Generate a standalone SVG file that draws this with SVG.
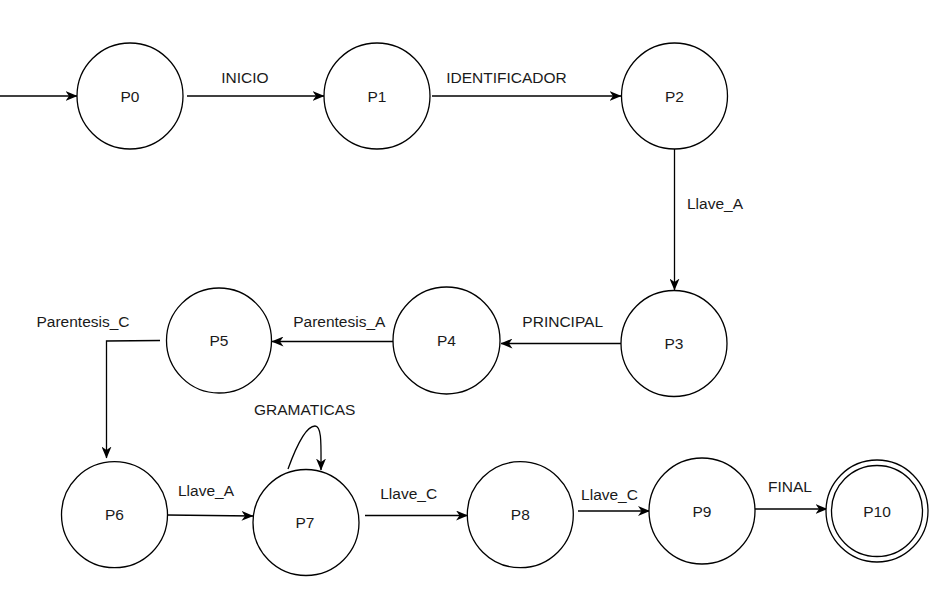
<svg xmlns="http://www.w3.org/2000/svg" width="936" height="607" viewBox="0 0 936 607">
<style>
  .st circle { fill: #ffffff; stroke: #000000; stroke-width: 1.3; }
  .st text, .lbl { font-family: "Liberation Sans", Arial, sans-serif; font-size: 15.5px; fill: #1a1a1a; }
  .st text { text-anchor: middle; }
  .lbl.c { text-anchor: middle; }
  .edge { fill: none; stroke: #000000; stroke-width: 1.3; marker-end: url(#arr); }
</style>
<defs>
  <marker id="arr" viewBox="0 0 12 10" refX="11.5" refY="5" markerWidth="12" markerHeight="10" markerUnits="userSpaceOnUse" orient="auto">
    <path d="M0,0 L12,5 L0,10 L3.5,5 Z" fill="#000000"/>
  </marker>
</defs>
<rect x="0" y="0" width="936" height="607" fill="#ffffff"/>
<g id="connectors">
  <path class="edge" d="M0,96 L77,96"/>
  <path class="edge" d="M187,96 L324,96"/>
  <path class="edge" d="M432,96 L621,96"/>
  <path class="edge" d="M674.5,149 L674.5,290"/>
  <path class="edge" d="M621,343.5 L501,343.5"/>
  <path class="edge" d="M393,341.5 L272,341.5"/>
  <path class="edge" d="M160,340.5 L106.5,341 L106.5,458"/>
  <path class="edge" d="M167,515 L253,516"/>
  <path class="edge" d="M288,469 C296,447 306,426 315,426 C322,426 321,445 321,470"/>
  <path class="edge" d="M365,515.5 L467.5,515.5"/>
  <path class="edge" d="M578,511 L649.5,511"/>
  <path class="edge" d="M755,509 L827,509"/>
</g>
<g id="edge-labels">
  <text class="lbl c" x="245" y="83">INICIO</text>
  <text class="lbl c" x="506.5" y="83">IDENTIFICADOR</text>
  <text class="lbl" x="687" y="209">Llave_A</text>
  <text class="lbl c" x="562.7" y="327">PRINCIPAL</text>
  <text class="lbl c" x="339.3" y="327">Parentesis_A</text>
  <text class="lbl c" x="83" y="327">Parentesis_C</text>
  <text class="lbl c" x="304.7" y="415">GRAMATICAS</text>
  <text class="lbl c" x="206" y="496">Llave_A</text>
  <text class="lbl c" x="408.7" y="499">Llave_C</text>
  <text class="lbl c" x="609.5" y="500">Llave_C</text>
  <text class="lbl c" x="790" y="492">FINAL</text>
</g>
<g id="P0" class="st"><circle cx="130" cy="96" r="53"/><text x="130" y="101.5">P0</text></g>
<g id="P1" class="st"><circle cx="377" cy="96" r="53"/><text x="377" y="101.5">P1</text></g>
<g id="P2" class="st"><circle cx="674.5" cy="96" r="53"/><text x="674.5" y="101.5">P2</text></g>
<g id="P3" class="st"><circle cx="674" cy="343.5" r="53"/><text x="674" y="349">P3</text></g>
<g id="P4" class="st"><circle cx="446.5" cy="340.5" r="53.5"/><text x="446.5" y="346">P4</text></g>
<g id="P5" class="st"><circle cx="219" cy="340.5" r="52.5"/><text x="219" y="346">P5</text></g>
<g id="P6" class="st"><circle cx="114.5" cy="514.7" r="53"/><text x="114.5" y="520">P6</text></g>
<g id="P7" class="st"><circle cx="306" cy="522.5" r="53"/><text x="305" y="528">P7</text></g>
<g id="P8" class="st"><circle cx="520.3" cy="514.7" r="53"/><text x="520.3" y="520">P8</text></g>
<g id="P9" class="st"><circle cx="702" cy="511" r="53"/><text x="702" y="516.5">P9</text></g>
<g id="P10" class="st"><circle cx="877" cy="511" r="51"/><circle cx="877" cy="511" r="45.5"/><text x="877" y="516.5">P10</text></g>
</svg>
